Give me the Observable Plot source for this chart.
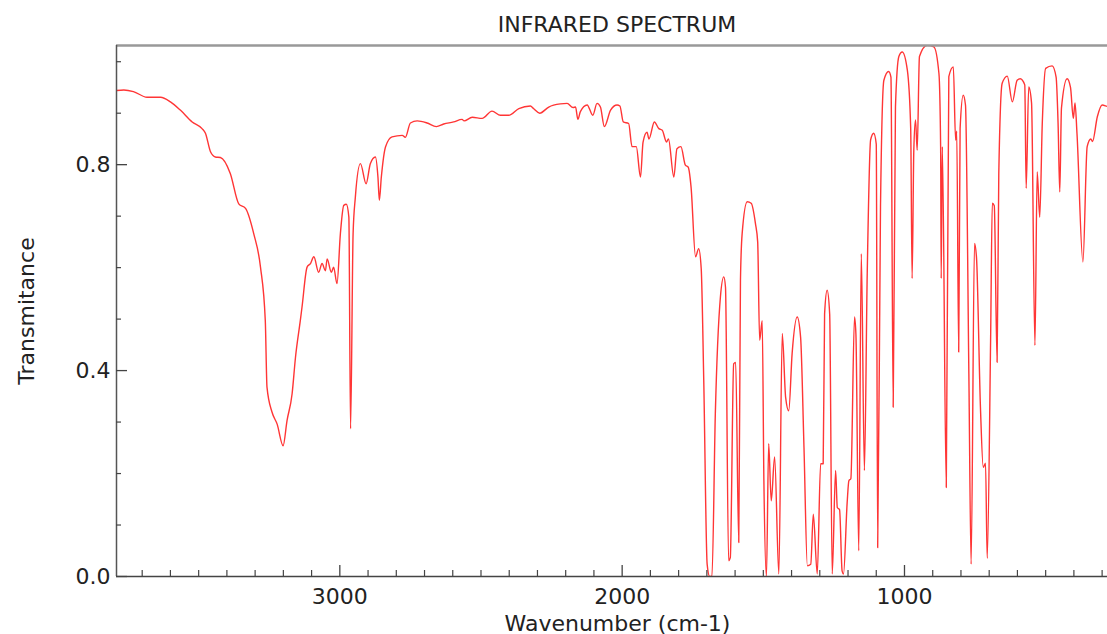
<!DOCTYPE html>
<html>
<head>
<meta charset="utf-8">
<script src="https://cdn.jsdelivr.net/npm/d3@7"></script>
<script src="https://cdn.jsdelivr.net/npm/@observablehq/plot@0.6"></script>
<style>
  html, body { margin: 0; padding: 0; overflow: hidden; background: #fff; }
  #wrap { width: 1120px; font-family: "DejaVu Sans", sans-serif; color: #222; }
  #title { box-sizing: border-box; height: 40px; padding: 14px 2px 0 116px; line-height: 22px; font-size: 22px; text-align: center; }
</style>
</head>
<body>
<div id="wrap">
  <div id="title">INFRARED SPECTRUM</div>
  <div id="chart"></div>
</div>
<script>
const wavenumber = [
  3791, 3765, 3731, 3683, 3635, 3600, 3565, 3523, 3488, 3476, 3458, 3441, 3423, 3388, 3358, 3334,
  3305, 3281, 3264, 3258, 3240, 3222, 3201, 3187, 3169, 3157, 3140, 3134, 3116, 3104, 3092, 3075,
  3063, 3051, 3045, 3030, 3022, 3010, 2998, 2986, 2977, 2968, 2962, 2953, 2945, 2927, 2907, 2892,
  2874, 2865, 2860, 2853, 2838, 2815, 2779, 2768, 2750, 2726, 2691, 2658, 2632, 2597, 2567, 2560,
  2531, 2496, 2461, 2431, 2402, 2366, 2325, 2314, 2292, 2260, 2219, 2195, 2174, 2165, 2157, 2148,
  2124, 2104, 2089, 2077, 2063, 2041, 2018, 2008, 1996, 1977, 1965, 1950, 1935, 1926, 1912, 1905,
  1886, 1870, 1858, 1843, 1836, 1817, 1806, 1792, 1776, 1766, 1756, 1740, 1729, 1720, 1711, 1699,
  1690, 1682, 1670, 1652, 1640, 1634, 1623, 1617, 1605, 1598, 1587, 1581, 1575, 1557, 1543, 1528,
  1520, 1513, 1504, 1498, 1489, 1481, 1472, 1460, 1445, 1433, 1421, 1410, 1398, 1380, 1368, 1356,
  1344, 1332, 1323, 1309, 1297, 1288, 1283, 1274, 1265, 1256, 1244, 1238, 1230, 1221, 1216, 1203,
  1197, 1190, 1177, 1172, 1162, 1153, 1142, 1132, 1120, 1109, 1100, 1095, 1085, 1073, 1056, 1048,
  1040, 1032, 1020, 1008, 990, 978, 973, 967, 961, 955, 947, 920, 896, 878, 872, 870,
  866, 852, 843, 827, 819, 815, 808, 803, 792, 784, 772, 764, 752, 745, 731, 721,
  713, 707, 695, 689, 682, 672, 666, 654, 636, 618, 601, 590, 574, 569, 560, 550,
  538, 530, 521, 512, 500, 477, 463, 456, 450, 444, 424, 412, 402, 396, 389, 368,
  353, 340, 334, 317, 300, 281, 243
];
const transmittance = [
  0.944, 0.945, 0.942, 0.931, 0.931, 0.922, 0.906, 0.883, 0.870, 0.861, 0.825, 0.815, 0.814, 0.783, 0.724, 0.715,
  0.666, 0.601, 0.497, 0.368, 0.319, 0.296, 0.254, 0.303, 0.355, 0.426, 0.497, 0.523, 0.601, 0.608, 0.621, 0.591,
  0.608, 0.594, 0.617, 0.591, 0.601, 0.569, 0.666, 0.721, 0.723, 0.698, 0.287, 0.666, 0.737, 0.802, 0.763, 0.802,
  0.815, 0.776, 0.731, 0.776, 0.835, 0.854, 0.857, 0.853, 0.881, 0.885, 0.881, 0.874, 0.879, 0.883, 0.888, 0.885,
  0.892, 0.890, 0.904, 0.896, 0.896, 0.909, 0.914, 0.909, 0.900, 0.912, 0.918, 0.919, 0.911, 0.912, 0.888, 0.903,
  0.916, 0.896, 0.919, 0.912, 0.874, 0.906, 0.916, 0.914, 0.883, 0.880, 0.835, 0.835, 0.776, 0.844, 0.863, 0.850,
  0.883, 0.870, 0.867, 0.844, 0.850, 0.776, 0.831, 0.835, 0.799, 0.795, 0.757, 0.621, 0.637, 0.598, 0.381, 0.024,
  0.000, 0.000, 0.316, 0.543, 0.582, 0.562, 0.031, 0.037, 0.413, 0.416, 0.066, 0.575, 0.666, 0.728, 0.725, 0.686,
  0.650, 0.459, 0.497, 0.186, 0.000, 0.258, 0.147, 0.232, 0.005, 0.472, 0.348, 0.322, 0.433, 0.504, 0.465, 0.251,
  0.021, 0.024, 0.121, 0.005, 0.219, 0.219, 0.510, 0.556, 0.510, 0.005, 0.206, 0.134, 0.130, 0.011, 0.005, 0.144,
  0.186, 0.190, 0.504, 0.470, 0.050, 0.627, 0.206, 0.588, 0.848, 0.861, 0.840, 0.056, 0.718, 0.964, 0.981, 0.970,
  0.329, 0.912, 1.010, 1.019, 0.984, 0.870, 0.579, 0.828, 0.887, 0.828, 1.010, 1.032, 1.029, 0.977, 0.835, 0.579,
  0.835, 0.173, 0.971, 0.990, 0.848, 0.865, 0.436, 0.870, 0.935, 0.916, 0.394, 0.024, 0.647, 0.620, 0.329, 0.212,
  0.220, 0.035, 0.459, 0.725, 0.720, 0.416, 0.783, 0.958, 0.972, 0.922, 0.964, 0.967, 0.955, 0.754, 0.951, 0.920,
  0.449, 0.786, 0.698, 0.880, 0.987, 0.992, 0.970, 0.880, 0.747, 0.910, 0.967, 0.950, 0.890, 0.920, 0.860, 0.611,
  0.835, 0.850, 0.845, 0.893, 0.916, 0.913, 0.910
];

const xMajorTicks = [3000, 2000, 1000];
const xMinorTicks = [3700, 3600, 3500, 3400, 3300, 3200, 3100, 2900, 2800, 2700, 2600, 2500, 2400, 2300, 2200, 2100,
  1900, 1800, 1700, 1600, 1500, 1400, 1300, 1200, 1100, 900, 800, 700, 600, 500, 400, 300];
const yMajorTicks = [0, 0.4, 0.8];
const yMinorTicks = [0.1, 0.2, 0.3, 0.5, 0.6, 0.7, 0.9, 1.0];
const xDomain = [3791, 242];
const yDomain = [0, 1.0315];

const spectrum = wavenumber.map((w, i) => ({w, t: transmittance[i]}));

const H = 594, MT = 5, MB = 58, ML = 116, MR = 2, W = 1120;
const plotH = H - MT - MB, plotW = W - ML - MR;
const axisColor = "#444";

const chart = Plot.plot({
  width: W,
  height: H,
  marginTop: MT,
  marginBottom: MB,
  marginLeft: ML,
  marginRight: MR,
  x: {domain: xDomain},
  y: {domain: yDomain},
  style: {fontFamily: "DejaVu Sans", fontSize: "22px", color: "#222", background: "white", overflow: "visible"},
  marks: [
    Plot.line(spectrum, {x: "w", y: "t", stroke: "#ff3535", strokeWidth: 1.4, curve: "monotone-x", clip: true}),
    Plot.ruleY([yDomain[1]], {stroke: "#999", strokeWidth: 2.5}),
    Plot.ruleX([xDomain[0]], {stroke: "#555", strokeWidth: 1.5}),
    Plot.ruleY([0], {stroke: axisColor, strokeWidth: 1.5}),
    Plot.tickX(xMajorTicks, {x: d => d, insetTop: plotH - 11, stroke: axisColor, strokeWidth: 1.3}),
    Plot.tickX(xMinorTicks, {x: d => d, insetTop: plotH - 6, stroke: axisColor, strokeWidth: 1.2}),
    Plot.tickY(yMajorTicks, {y: d => d, insetRight: plotW - 11, stroke: axisColor, strokeWidth: 1.3}),
    Plot.tickY(yMinorTicks, {y: d => d, insetRight: plotW - 5, stroke: axisColor, strokeWidth: 1.2}),
    Plot.axisX({ticks: xMajorTicks, tickSize: 0, tickPadding: 12, label: null, tickFormat: d => String(d)}),
    Plot.axisY({ticks: yMajorTicks, tickSize: 0, tickPadding: 6, label: null, tickFormat: d => d.toFixed(1)}),
    Plot.text(["Wavenumber (cm-1)"], {text: d => d, frameAnchor: "bottom", dy: 47, lineAnchor: "middle", textAnchor: "middle", fill: "#222"}),
    Plot.text(["Transmitance"], {text: d => d, frameAnchor: "left", dx: -90, rotate: -90, lineAnchor: "middle", textAnchor: "middle", fill: "#222"})
  ]
});
document.getElementById("chart").appendChild(chart);
</script>
</body>
</html>
